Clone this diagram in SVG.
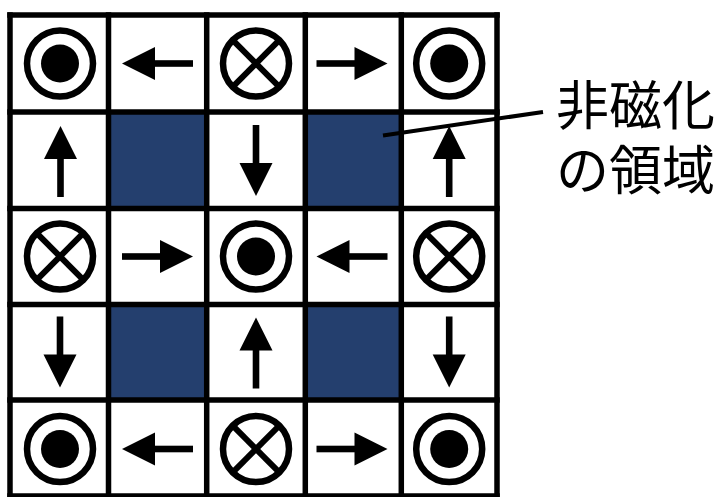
<svg xmlns="http://www.w3.org/2000/svg" xmlns:xlink="http://www.w3.org/1999/xlink" width="723" height="497" viewBox="0 0 723 497">
<style>
.grid{stroke:#000;stroke-width:5.5;fill:none;stroke-linecap:square}
.dark{fill:#243F6E}
.ring{fill:#fff;stroke:#000;stroke-width:6.5}
.xl{stroke:#000;stroke-width:6}
.lbl{font-family:"Noto Sans CJK JP","Noto Sans CJK SC",sans-serif;font-size:53px;fill:#000}
.leader{stroke:#000;stroke-width:4}
</style>
<defs>
<g id="dot"><circle class="ring" r="33"/><circle r="19" fill="#000"/></g>
<g id="cross"><circle class="ring" r="33"/><line class="xl" x1="-23.3" y1="-23.3" x2="23.3" y2="23.3"/><line class="xl" x1="-23.3" y1="23.3" x2="23.3" y2="-23.3"/></g>
<g id="arr"><rect x="-35.5" y="-3.3" width="39" height="6.6" fill="#000"/><polygon points="2.5,-16.5 35.5,0 2.5,16.5" fill="#000"/></g>
</defs>
<rect width="723" height="497" fill="#fff"/>
<g id="dark-cells">
<rect class="dark" x="108.5" y="112" width="98.2" height="96.5"/>
<rect class="dark" x="305.3" y="112" width="96" height="96.5"/>
<rect class="dark" x="108.5" y="304.5" width="98.2" height="95.5"/>
<rect class="dark" x="305.3" y="304.5" width="96" height="95.5"/>
</g>
<g id="grid">
<line class="grid" x1="10" y1="15" x2="10" y2="500"/>
<line class="grid" x1="108.5" y1="15" x2="108.5" y2="500"/>
<line class="grid" x1="206.7" y1="15" x2="206.7" y2="500"/>
<line class="grid" x1="305.3" y1="15" x2="305.3" y2="500"/>
<line class="grid" x1="401.3" y1="15" x2="401.3" y2="500"/>
<line class="grid" x1="497" y1="15" x2="497" y2="500"/>
<line class="grid" x1="10" y1="15" x2="497" y2="15"/>
<line class="grid" x1="10" y1="112" x2="497" y2="112"/>
<line class="grid" x1="10" y1="208.5" x2="497" y2="208.5"/>
<line class="grid" x1="10" y1="304.5" x2="497" y2="304.5"/>
<line class="grid" x1="10" y1="400" x2="497" y2="400"/>
<line class="grid" x1="10" y1="496" x2="497" y2="496"/>
</g>
<g id="r0c0"><use xlink:href="#dot" x="60" y="63.5"/></g>
<g id="r0c1"><use xlink:href="#arr" transform="translate(157.5,63.5) rotate(180)"/></g>
<g id="r0c2"><use xlink:href="#cross" x="256" y="63.5"/></g>
<g id="r0c3"><use xlink:href="#arr" transform="translate(352,63.5)"/></g>
<g id="r0c4"><use xlink:href="#dot" x="449.2" y="63.5"/></g>
<g id="r1c0"><use xlink:href="#arr" transform="translate(60.5,161.5) rotate(-90)"/></g>
<g id="r1c2"><use xlink:href="#arr" transform="translate(256,160.5) rotate(90)"/></g>
<g id="r1c4"><use xlink:href="#arr" transform="translate(449.2,161.5) rotate(-90)"/></g>
<g id="r2c0"><use xlink:href="#cross" x="60" y="256.5"/></g>
<g id="r2c1"><use xlink:href="#arr" transform="translate(157.5,256.5)"/></g>
<g id="r2c2"><use xlink:href="#dot" x="256" y="256.5"/></g>
<g id="r2c3"><use xlink:href="#arr" transform="translate(352,256.5) rotate(180)"/></g>
<g id="r2c4"><use xlink:href="#cross" x="449.2" y="256.5"/></g>
<g id="r3c0"><use xlink:href="#arr" transform="translate(60,352) rotate(90)"/></g>
<g id="r3c2"><use xlink:href="#arr" transform="translate(256,353) rotate(-90)"/></g>
<g id="r3c4"><use xlink:href="#arr" transform="translate(449.2,352) rotate(90)"/></g>
<g id="r4c0"><use xlink:href="#dot" x="60" y="449"/></g>
<g id="r4c1"><use xlink:href="#arr" transform="translate(157.5,449) rotate(180)"/></g>
<g id="r4c2"><use xlink:href="#cross" x="256" y="449"/></g>
<g id="r4c3"><use xlink:href="#arr" transform="translate(352,449)"/></g>
<g id="r4c4"><use xlink:href="#dot" x="449.2" y="449"/></g>
<g id="connectors">
<line class="leader" x1="383" y1="135.5" x2="543" y2="112"/>
</g>
<g id="label">
<text class="lbl" x="556" y="125">非磁化</text>
<text class="lbl" x="556" y="190">の領域</text>
</g>
</svg>
